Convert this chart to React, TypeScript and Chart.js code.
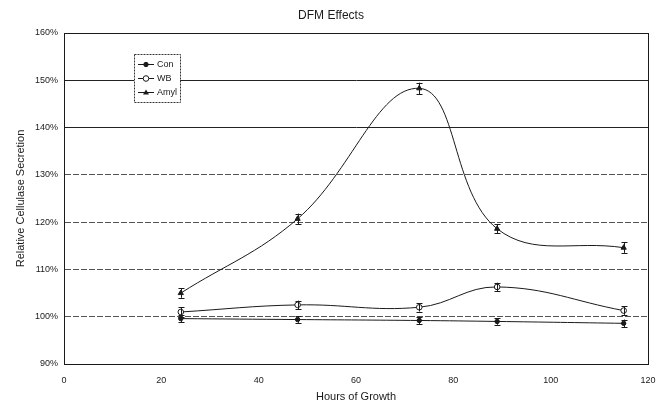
import React, { useEffect, useRef } from "react";
import { Chart, registerables } from "chart.js";

Chart.register(...registerables);

const hours = [24, 48, 73, 89, 115];
const conValues = [99.6, 99.4, 99.2, 99.0, 98.6];
const wbValues = [101.0, 102.5, 102.0, 106.3, 101.3];
const amylValues = [105.0, 120.7, 148.3, 118.6, 114.6];
const conErrors = [0.8, 0.7, 0.8, 0.7, 0.8];
const wbErrors = [1.0, 0.9, 0.9, 0.9, 0.9];
const amylErrors = [1.0, 1.1, 1.2, 1.0, 1.1];
const seriesNames = ["Con", "WB", "Amyl"];
const xTicks = [0, 20, 40, 60, 80, 100, 120];
const yTicks = [90, 100, 110, 120, 130, 140, 150, 160];

const FONT = "'Liberation Sans', Arial, sans-serif";
const INK = "#1a1a1a";

const errorsByDataset = [conErrors, wbErrors, amylErrors];

const errorBarPlugin = {
  id: "errorBars",
  afterDatasetsDraw(chart: any) {
    const ctx = chart.ctx;
    const yScale = chart.scales.y;
    ctx.save();
    ctx.strokeStyle = INK;
    ctx.lineWidth = 1;
    chart.data.datasets.forEach((ds: any, di: number) => {
      const meta = chart.getDatasetMeta(di);
      const errs = errorsByDataset[di];
      meta.data.forEach((pt: any, i: number) => {
        const v = ds.data[i].y;
        const top = yScale.getPixelForValue(v + errs[i]);
        const bot = yScale.getPixelForValue(v - errs[i]);
        const x = Math.round(pt.x) + 0.5;
        ctx.beginPath();
        ctx.moveTo(x, top);
        ctx.lineTo(x, bot);
        ctx.moveTo(x - 3, Math.round(top) + 0.5);
        ctx.lineTo(x + 3, Math.round(top) + 0.5);
        ctx.moveTo(x - 3, Math.round(bot) + 0.5);
        ctx.lineTo(x + 3, Math.round(bot) + 0.5);
        ctx.stroke();
      });
    });
    ctx.restore();
  },
};

const frameLegendPlugin = {
  id: "frameLegend",
  afterDraw(chart: any) {
    const ctx = chart.ctx;
    const a = chart.chartArea;
    ctx.save();
    ctx.strokeStyle = INK;
    ctx.lineWidth = 1;
    ctx.strokeRect(Math.round(a.left) + 0.5, Math.round(a.top) + 0.5, Math.round(a.right - a.left), Math.round(a.bottom - a.top));

    // legend box inside the plot area
    const bx = a.left + 70;
    const by = a.top + 21;
    const bw = 46;
    const bh = 48;
    ctx.fillStyle = "#ffffff";
    ctx.fillRect(bx, by, bw, bh);
    ctx.setLineDash([2, 1]);
    ctx.strokeStyle = "#333";
    ctx.strokeRect(bx + 0.5, by + 0.5, bw, bh);
    ctx.setLineDash([]);
    const rows = [by + 10, by + 24, by + 38];
    chart.data.datasets.forEach((ds: any, i: number) => {
      const y = Math.round(rows[i]) + 0.5;
      ctx.strokeStyle = INK;
      ctx.lineWidth = 1;
      ctx.beginPath();
      ctx.moveTo(bx + 4, y);
      ctx.lineTo(bx + 20, y);
      ctx.stroke();
      const cx = bx + 12;
      ctx.beginPath();
      if (ds.pointStyle === "triangle") {
        ctx.moveTo(cx, y - 3);
        ctx.lineTo(cx + 3, y + 2);
        ctx.lineTo(cx - 3, y + 2);
        ctx.closePath();
        ctx.fillStyle = INK;
        ctx.fill();
      } else {
        ctx.arc(cx, y, ds.pointRadius, 0, Math.PI * 2);
        ctx.fillStyle = ds.pointBackgroundColor;
        ctx.fill();
        ctx.stroke();
      }
      ctx.fillStyle = INK;
      ctx.font = "9px " + FONT;
      ctx.textBaseline = "middle";
      ctx.textAlign = "left";
      ctx.fillText(seriesNames[i], bx + 23, y);
    });
    ctx.restore();
  },
};

function makeData(values: number[]) {
  return hours.map((h, i) => ({ x: h, y: values[i] }));
}

export default function App() {
  const ref = useRef<HTMLCanvasElement | null>(null);
  useEffect(() => {
    if (!ref.current) return;
    const common = {
      borderColor: INK,
      borderWidth: 1,
      tension: 0.4,
      pointBorderColor: INK,
      pointBorderWidth: 1,
    };
    const chart = new Chart(ref.current, {
      type: "line",
      data: {
        datasets: [
          { ...common, label: seriesNames[0], data: makeData(conValues), pointStyle: "circle", pointRadius: 2.2, pointBackgroundColor: INK },
          { ...common, label: seriesNames[1], data: makeData(wbValues), pointStyle: "circle", pointRadius: 2.8, pointBackgroundColor: "#ffffff" },
          { ...common, label: seriesNames[2], data: makeData(amylValues), pointStyle: "triangle", pointRadius: 3, pointBackgroundColor: INK },
        ],
      },
      options: {
        animation: false,
        responsive: false,
        events: [],
        layout: { padding: { left: 14, right: 13, top: 0, bottom: 6 } },
        plugins: {
          legend: { display: false },
          tooltip: { enabled: false },
          title: {
            display: true,
            text: "DFM Effects",
            color: INK,
            font: { family: FONT, size: 12, weight: "normal" },
            padding: { top: 8, bottom: 10.6 },
          },
        },
        scales: {
          x: {
            type: "linear",
            min: 0,
            max: 120,
            afterBuildTicks: (s: any) => { s.ticks = xTicks.map((v) => ({ value: v })); },
            afterFit: (s: any) => { s.height = 40; s.paddingLeft = 0; s.paddingRight = 0; },
            grid: { display: false, drawTicks: false },
            border: { display: true, color: INK },
            ticks: { color: INK, padding: 11, font: { family: FONT, size: 9 }, maxRotation: 0 },
            title: { display: true, text: "Hours of Growth", color: INK, font: { family: FONT, size: 11 }, padding: 0 },
          },
          y: {
            type: "linear",
            min: 90,
            max: 160,
            afterBuildTicks: (s: any) => { s.ticks = yTicks.map((v) => ({ value: v })); },
            afterFit: (s: any) => { s.width = 50; },
            grid: {
              drawTicks: false,
              color: (c: any) => (c.tick && c.tick.value >= 140 ? "#222" : "#555"),
            },
            border: {
              display: true,
              color: INK,
              dash: (c: any) => (c.tick && c.tick.value >= 140 ? [] : [6, 2]),
            },
            ticks: { color: INK, padding: 6, font: { family: FONT, size: 9 }, callback: (v: any) => v + "%" },
            title: { display: true, text: "Relative Cellulase Secretion", color: INK, font: { family: FONT, size: 11 }, padding: 0 },
          },
        },
      },
      plugins: [errorBarPlugin, frameLegendPlugin],
    } as any);
    return () => chart.destroy();
  }, []);
  return (
    <div style={{ position: "fixed", left: 0, top: 0, width: 661, height: 410, background: "#fff" }}>
      <canvas ref={ref} width={661} height={410} />
    </div>
  );
}
